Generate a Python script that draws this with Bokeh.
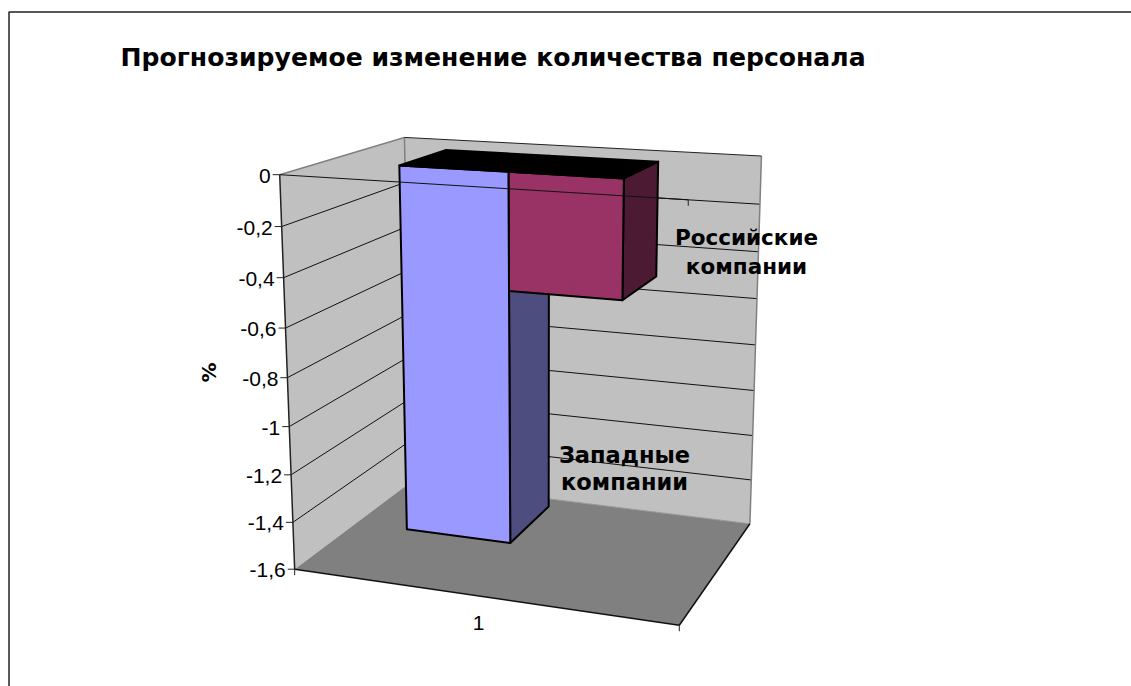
import numpy as np
from bokeh.plotting import figure
from bokeh.models import Range1d
from bokeh.core.properties import value
from bokeh.embed import file_html
from bokeh.resources import INLINE

title = "Прогнозируемое изменение количества персонала"
y_title = "%"
categories = ["1"]
tick_values = [0, -0.2, -0.4, -0.6, -0.8, -1.0, -1.2, -1.4, -1.6]
tick_labels = ["0", "-0,2", "-0,4", "-0,6", "-0,8", "-1", "-1,2", "-1,4", "-1,6"]
series_names = ["Западные\nкомпании", "Российские\nкомпании"]
western = [-1.52]
russian = [-0.47]

# camera calibration: box corners (x, value, depth) -> page pixels
YMIN = -1.6
CAL = [((0, 0, 0), (280, 174)), ((1, 0, 0), (688, 200)),
       ((0, YMIN, 0), (293, 568)), ((1, YMIN, 0), (679, 625)),
       ((0, 0, 1), (403, 137)), ((1, 0, 1), (761, 155)),
       ((0, YMIN, 1), (412, 482)), ((1, YMIN, 1), (749, 523))]
A, b = [], []
for (X, Y, Z), (u, v) in CAL:
    A.append([X, Y, Z, 1, 0, 0, 0, 0, -u * X, -u * Y, -u * Z]); b.append(u)
    A.append([0, 0, 0, 0, X, Y, Z, 1, -v * X, -v * Y, -v * Z]); b.append(v)
sol = np.linalg.lstsq(np.array(A, float), np.array(b, float), rcond=None)[0]
P = np.append(sol, 1.0).reshape(3, 4)


def proj(X, Y, Z):
    h = P @ np.array([X, Y, Z, 1.0])
    return h[0] / h[2], h[1] / h[2]


def poly(pts):
    q = [proj(*c) for c in pts]
    return [a for a, _ in q], [c for _, c in q]


p = figure(width=1131, height=686, x_range=Range1d(0, 1131), y_range=Range1d(686, 0),
           output_backend="svg", toolbar_location=None, min_border=0,
           x_axis_location=None, y_axis_location=None)
p.grid.visible = False
p.outline_line_color = None
p.background_fill_color = "white"

# chart frame
p.line([8.5, 8.5, 1131], [686, 11.5, 11.5], line_color="#222222", line_width=1.5)

WALL, FLOOR, GREY = "#C0C0C0", "#808080", "#808080"


def face(pts, fill, lw=2):
    xs, ys = poly(pts)
    p.patch(xs, ys, fill_color=fill, line_color="black", line_width=lw, line_join="round")


def seg(a, b_, color="black", w=1):
    xs, ys = poly([a, b_])
    p.line(xs, ys, line_color=color, line_width=w)


# walls and floor
for pts, c in [([(0, 0, 0), (0, 0, 1), (0, YMIN, 1), (0, YMIN, 0)], WALL),
               ([(0, 0, 1), (1, 0, 1), (1, YMIN, 1), (0, YMIN, 1)], WALL),
               ([(0, YMIN, 0), (1, YMIN, 0), (1, YMIN, 1), (0, YMIN, 1)], FLOOR)]:
    xs, ys = poly(pts)
    p.patch(xs, ys, fill_color=c, line_color=None)

for t in tick_values[1:-1]:
    seg((0, t, 0), (0, t, 1), "#111111")
    seg((0, t, 1), (1, t, 1), "#111111")

seg((0, 0, 0), (0, 0, 1), GREY, 1.5)
seg((0, 0, 1), (0, YMIN, 1), GREY, 1.5)
seg((1, 0, 1), (1, YMIN, 1), GREY, 1.5)
seg((0, YMIN, 1), (1, YMIN, 1), "#999999", 1)
seg((0, 0, 1), (1, 0, 1), "#222222", 1)
seg((0, 0, 0), (0, YMIN, 0), "#222222", 1.5)
seg((0, YMIN, 0), (1, YMIN, 0), "#111111", 1.5)
seg((1, YMIN, 0), (1, YMIN, 1), "#111111", 1.5)

# axis ticks and labels
for t, lab in zip(tick_values, tick_labels):
    x0, y0 = proj(0, t, 0)
    p.line([x0 - 7, x0], [y0, y0], line_color="#222222", line_width=1)
    p.text([x0 - 9], [y0 + 1], text=[lab], text_font=value("Liberation Sans"), text_font_size="21px",
           text_align="right", text_baseline="middle", text_color="black")
for X, Y in [(1, 0), (0, YMIN), (1, YMIN)]:
    x0, y0 = proj(X, Y, 0)
    p.line([x0, x0], [y0, y0 + 6], line_color="#222222", line_width=1)

# bars
X0, X1, X2 = 0.203, 0.49, 0.78
Z0, Z1 = 0.33, 0.735
w = western[0]
r = russian[0]
# western side, then russian, then western front
face([(X1, 0, Z0), (X1, 0, Z1), (X1, w, Z1), (X1, w, Z0)], "#4D4D80")
face([(X2, 0, Z0), (X2, 0, Z1), (X2, r, Z1), (X2, r, Z0)], "#4D1A33")
face([(X1, 0, Z0), (X2, 0, Z0), (X2, r, Z0), (X1, r, Z0)], "#993366")
face([(X0, 0, Z0), (X1, 0, Z0), (X1, w, Z0), (X0, w, Z0)], "#9999FF")
face([(X0, 0, Z0), (X2, 0, Z0), (X2, 0, Z1), (X0, 0, Z1)], "black")

# front zero line passes over the bars
seg((0, 0, 0), (1, 0, 0), "#111111", 1)

# texts
p.text([120], [57], text=[title], text_font=value("DejaVu Sans"), text_font_style="bold",
       text_font_size="25.1px", text_align="left", text_baseline="middle", text_color="black")
p.text([208], [372], text=[y_title], text_font=value("DejaVu Sans"), text_font_style="bold",
       text_font_size="20px", text_align="center", text_baseline="middle", angle=np.pi / 2,
       text_color="black")
p.text([478], [622], text=categories, text_font=value("Liberation Sans"), text_font_size="21px",
       text_align="center", text_baseline="middle", text_color="black")
for name, lx, y1, y2, fs in [(series_names[0], 624, 454, 481, "22.5px"), (series_names[1], 746, 237, 266, "21.5px")]:
    a, c = name.split("\n")
    p.text([lx], [y1], text=[a], text_font=value("DejaVu Sans"), text_font_style="bold",
           text_font_size=fs, text_align="center", text_baseline="middle", text_color="black")
    p.text([lx], [y2], text=[c], text_font=value("DejaVu Sans"), text_font_style="bold",
           text_font_size=fs, text_align="center", text_baseline="middle", text_color="black")

open("out.html", "w").write(file_html(p, INLINE))
